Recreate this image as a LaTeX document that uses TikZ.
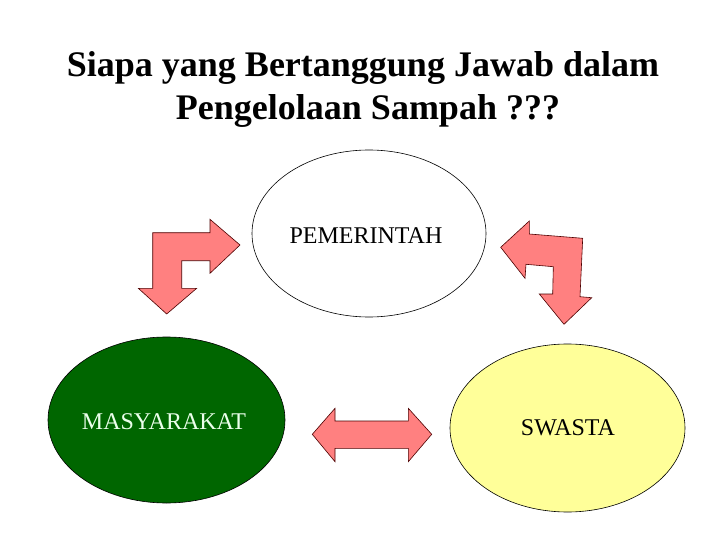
\documentclass[tikz,border=0pt]{standalone}
\usepackage{fontspec}
\setmainfont{Liberation Serif}[BoldFont={Liberation Serif Bold}]
\usetikzlibrary{shapes.geometric}
\definecolor{arrowpink}{RGB}{255,128,128}
\definecolor{darkgreen}{RGB}{0,102,0}
\definecolor{lightyellow}{RGB}{255,255,153}
\tikzset{
  blob/.style={ellipse, draw=black, line width=0.6pt, inner sep=0pt},
  blockarrow/.style={fill=arrowpink, draw=black!70!red, line width=0.6pt, line join=miter},
  label/.style={anchor=base, inner sep=0pt, font=\fontsize{24}{28}\selectfont},
  title/.style={anchor=base, inner sep=0pt, font=\fontsize{36}{43}\selectfont\bfseries}
}
\begin{document}
\begin{tikzpicture}[x=1pt, y=-1pt]
\useasboundingbox (0,0) rectangle (720,540);
\fill[white] (0,0) rectangle (720,540);
% title
\node[title] (t1) at (363,77) {Siapa yang Bertanggung Jawab dalam};
\node[title] (t2) at (368,120) {Pengelolaan Sampah ???};
% ellipses
\node[blob, fill=white, minimum width=234pt, minimum height=167pt] (pem) at (369,233.5) {};
\node[blob, fill=darkgreen, minimum width=237pt, minimum height=166pt] (mas) at (166.5,420) {};
\node[blob, fill=lightyellow, minimum width=235pt, minimum height=168pt] (swa) at (567.5,428) {};
% labels
\node[label] (pemtxt) at (366,243.3) {PEMERINTAH};
\node[label, text=white!92!green] (mastxt) at (164,429.3) {MASYARAKAT};
\node[label] (swatxt) at (568,435) {SWASTA};
% block arrows
\draw[blockarrow] (152.7,232.7) -- (210,232.7) -- (210,219.3) -- (240,245) -- (210,273.3) -- (210,260.7) -- (181.7,260.7) -- (181.7,288.3) -- (196.7,288.3) -- (166.7,314) -- (138.3,288.3) -- (152.7,288.3) -- cycle;
\draw[blockarrow] (500.7,247.3) -- (529.3,221) -- (529.3,234) -- (582.7,238.3) -- (580,296.7) -- (591.7,297.7) -- (564,324.3) -- (539.3,294) -- (552.7,294) -- (553.3,266.7) -- (526,264.3) -- (525,278.3) -- cycle;
\draw[blockarrow] (312.3,434.3) -- (335,408.3) -- (335,421) -- (408.3,421) -- (408.3,408.3) -- (431.7,434.3) -- (408.3,461.7) -- (408.3,448.3) -- (335,448.3) -- (335,461.7) -- cycle;
\end{tikzpicture}
\end{document}
